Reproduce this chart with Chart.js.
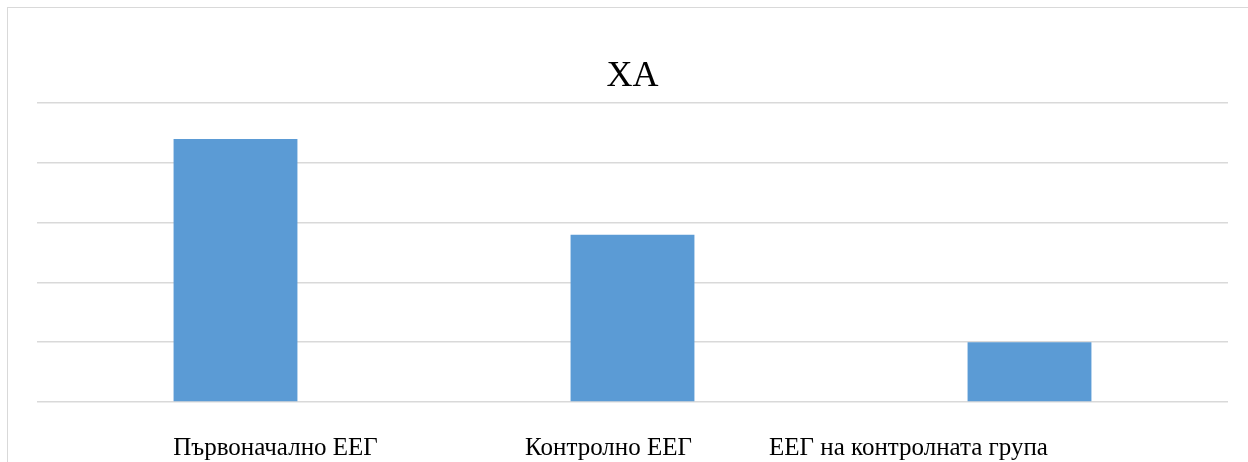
<!DOCTYPE html>
<html>
<head>
<meta charset="utf-8">
<script src="https://cdn.jsdelivr.net/npm/chart.js@4/dist/chart.umd.min.js"></script>
<style>
  html, body { margin: 0; padding: 0; background: #fff; overflow: hidden; }
  #frame { position: absolute; left: 7px; top: 7px; width: 1270px; height: 480px; border: 1.5px solid #d9d9d9; box-sizing: border-box; }
  #wrap { position: absolute; left: 0; top: 0; width: 1248px; height: 462px; }
</style>
</head>
<body>
<div id="frame"></div>
<div id="wrap"><canvas id="c" width="1248" height="462"></canvas></div>
<script>
const titleText = "ХА";
const categories = ["Първоначално ЕЕГ", "Контролно ЕЕГ", "ЕЕГ на контролната група"];
const values = [4.4, 2.8, 1.0];
const yMax = 5;
const yStep = 1;

// horizontal nudges of category labels as seen in the reference
const labelShift = [40, -24, -121];

const categoryLabels = {
  id: 'categoryLabels',
  afterDraw(chart) {
    const ctx = chart.ctx;
    const xs = chart.scales.x;
    const area = chart.chartArea;
    ctx.save();
    ctx.font = '25px "Liberation Serif", "Times New Roman", serif';
    ctx.fillStyle = '#000000';
    ctx.textAlign = 'center';
    ctx.textBaseline = 'middle';
    categories.forEach((lab, i) => {
      ctx.fillText(lab, xs.getPixelForValue(i) + labelShift[i], area.bottom + 46);
    });
    ctx.restore();
  }
};

new Chart(document.getElementById('c'), {
  type: 'bar',
  data: {
    labels: categories,
    datasets: [{
      data: values,
      backgroundColor: '#5B9BD5',
      borderWidth: 0,
      barPercentage: 0.312,
      categoryPercentage: 1.0
    }]
  },
  options: {
    responsive: false,
    animation: false,
    devicePixelRatio: 1,
    layout: { padding: { left: 37, right: 20, top: 0, bottom: 52 } },
    plugins: {
      legend: { display: false },
      tooltip: { enabled: false },
      title: {
        display: true,
        text: titleText,
        color: '#000000',
        font: { family: '"Liberation Serif", "Times New Roman", serif', size: 36, weight: 'normal', lineHeight: 1.2 },
        padding: { top: 55, bottom: 5 }
      }
    },
    scales: {
      x: {
        ticks: { display: false },
        grid: { display: false },
        border: { display: false }
      },
      y: {
        min: 0,
        max: yMax,
        ticks: { display: false, stepSize: yStep },
        grid: { color: '#d9d9d9', lineWidth: 1.5, drawTicks: false },
        border: { display: false }
      }
    }
  },
  plugins: [categoryLabels]
});
</script>
</body>
</html>
